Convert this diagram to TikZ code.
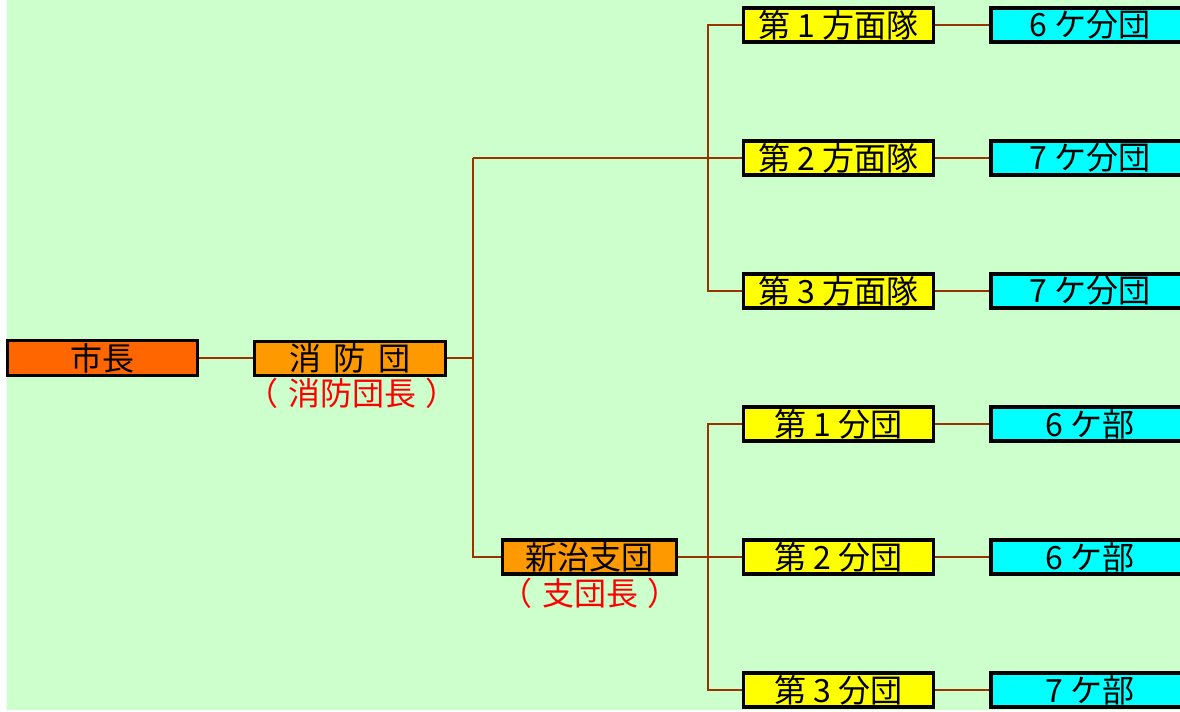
\documentclass[tikz,border=0pt]{standalone}
\usepackage{fontspec}
\setmainfont{Noto Sans CJK JP}
\definecolor{bg}{HTML}{CCFFCC}
\definecolor{mayor}{HTML}{FF6600}
\definecolor{org}{HTML}{FF9900}
\definecolor{yel}{HTML}{FFFF00}
\definecolor{cya}{HTML}{00FFFF}
\definecolor{con}{HTML}{993300}
\tikzset{
  box/.style={draw=black, line width=2.4pt, inner sep=0pt, font=\fontsize{24}{24}\selectfont, text=black},
  topbox/.style={box, minimum width=143pt, minimum height=26pt},
  subbox/.style={box, fill=org, minimum width=130pt, minimum height=25.5pt},
  ybox/.style={box, fill=yel, minimum width=143pt, minimum height=25.5pt},
  cbox/.style={box, fill=cya, minimum width=148.5pt, minimum height=25.5pt},
  lab/.style={text=red, inner sep=0pt, font=\fontsize{24}{24}\selectfont},
  conn/.style={draw=con, line width=1.5pt}
}
\begin{document}
\begin{tikzpicture}[x=0.75pt,y=-0.75pt]
\useasboundingbox (0,0) rectangle (1180,712);
\fill[white] (0,0) rectangle (1180,712);
\fill[bg] (7,0) rectangle (1180,710);
% nodes
\node[topbox, fill=mayor] (mayor) at (102.5,358) {市長};
\node[topbox, fill=org] (shobo) at (350,358.5) {消\hspace{0.4em}防\hspace{0.4em}団};
\node[lab] (shobolab) at (352,393) {（\hspace{0.3em}消防団長\hspace{0.3em}）};
\node[subbox] (nii) at (589.5,557) {新治支団};
\node[lab] (niilab) at (590,593) {（\hspace{0.3em}支団長\hspace{0.3em}）};
\node[ybox] (y1) at (838.5,25) {第 1 方面隊};
\node[ybox] (y2) at (838.5,158) {第 2 方面隊};
\node[ybox] (y3) at (838.5,291) {第 3 方面隊};
\node[ybox] (y4) at (838.5,424) {第 1 分団};
\node[ybox] (y5) at (838.5,557) {第 2 分団};
\node[ybox] (y6) at (838.5,690) {第 3 分団};
\node[cbox] (c1) at (1090,25) {6 ケ分団};
\node[cbox] (c2) at (1090,158) {7 ケ分団};
\node[cbox] (c3) at (1090,291) {7 ケ分団};
\node[cbox] (c4) at (1090,424) {6 ケ部};
\node[cbox] (c5) at (1090,557) {6 ケ部};
\node[cbox] (c6) at (1090,690) {7 ケ部};
\coordinate (ta) at (473,0);
\coordinate (tb) at (708,0);
% connectors
\draw[conn] (mayor.east) -- (shobo.west |- mayor.east);
\draw[conn] (shobo.east) -- (shobo.east -| ta);
\draw[conn] (y2.west -| ta) -- (nii.west -| ta) -- (nii.west);
\draw[conn] (y2.west -| ta) -- (y2.west);
\draw[conn] (y1.west) -- (y1.west -| tb) -- (y3.west -| tb) -- (y3.west);
\draw[conn] (y4.west) -- (y4.west -| tb) -- (y6.west -| tb) -- (y6.west);
\draw[conn] (nii.east) -- (y5.west);
\foreach \i in {1,...,6} { \draw[conn] (y\i.east) -- (c\i.west); }
\end{tikzpicture}
\end{document}
